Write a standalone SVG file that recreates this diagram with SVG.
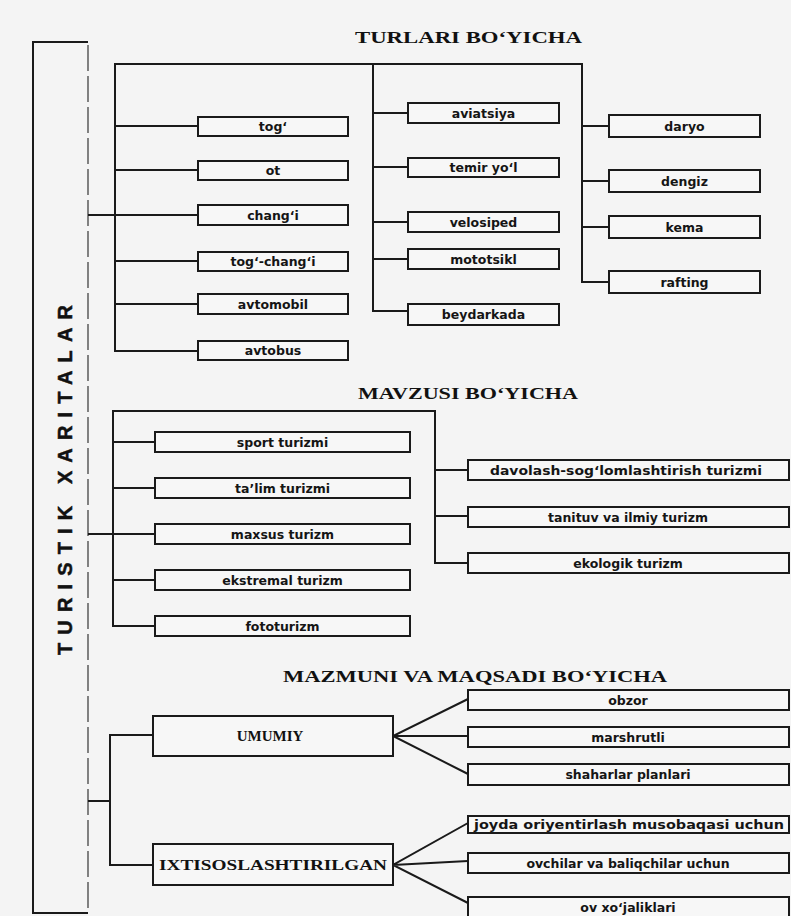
<svg xmlns="http://www.w3.org/2000/svg" width="791" height="916" viewBox="0 0 791 916">
<style>
.bg{fill:#f4f4f4}
.box{fill:#f7f7f7;stroke:#1a1a1a;stroke-width:2}
.ln{fill:none;stroke:#1a1a1a;stroke-width:2}
.t{font-family:"DejaVu Sans","Liberation Sans",sans-serif;font-weight:bold;font-size:12.5px;fill:#151515;text-anchor:middle}
.ttl{font-family:"Liberation Serif","Times New Roman",serif;font-weight:bold;font-size:17px;fill:#111}
.big{font-family:"Liberation Serif","Times New Roman",serif;font-weight:bold;font-size:15px;fill:#111;text-anchor:middle}
.vt{font-family:"Liberation Sans",Arial,sans-serif;font-weight:bold;font-size:20px;fill:#111;stroke:#111;stroke-width:0.5;text-anchor:middle}
</style>
<rect class="bg" x="0" y="0" width="791" height="916"/>

<g id="frame">
  <path class="ln" d="M88 42 H33 V913 H88"/>
  <path d="M88 45 V913" fill="none" stroke="#444" stroke-width="1.3" stroke-dasharray="26 5"/>
  <text class="vt" transform="translate(72,480) rotate(-90)" x="0" y="0" textLength="350" lengthAdjust="spacing">TURISTIK XARITALAR</text>
</g>

<g id="titles">
  <text class="ttl" x="355" y="43" textLength="227" lengthAdjust="spacingAndGlyphs">TURLARI  BO‘YICHA</text>
  <text class="ttl" x="358" y="399" textLength="220" lengthAdjust="spacingAndGlyphs">MAVZUSI BO‘YICHA</text>
  <text class="ttl" x="283" y="682" textLength="384" lengthAdjust="spacingAndGlyphs">MAZMUNI VA MAQSADI BO‘YICHA</text>
</g>

<g id="connectors">
  <!-- TURLARI -->
  <path class="ln" d="M198 351 H115 V64 H582 V282 H609"/>
  <path class="ln" d="M373 64 V311 H408"/>
  <path class="ln" d="M115 126 H198 M115 170 H198 M88 215 H198 M115 261 H198 M115 304 H198"/>
  <path class="ln" d="M373 113 H408 M373 167 H408 M373 222 H408 M373 259 H408"/>
  <path class="ln" d="M582 126 H609 M582 181 H609 M582 227 H609"/>
  <!-- MAVZUSI -->
  <path class="ln" d="M155 626 H113 V411 H435 V563 H468"/>
  <path class="ln" d="M113 442 H155 M113 488 H155 M88 534 H155 M113 580 H155"/>
  <path class="ln" d="M435 470 H468 M435 516 H468"/>
  <!-- MAZMUNI -->
  <path class="ln" d="M88 801 H110 M153 735 H110 V865 H153"/>
  <path class="ln" d="M468 699 L393 736 L468 774 M393 736 H468"/>
  <path class="ln" d="M468 823 L393 865 L468 903 M393 865 L468 861"/>
</g>

<g id="n-tog"><rect class="box" x="198" y="117" width="150" height="19"/><text class="t" x="273" y="131">tog‘</text></g>
<g id="n-ot"><rect class="box" x="198" y="161" width="150" height="19"/><text class="t" x="273" y="175">ot</text></g>
<g id="n-changi"><rect class="box" x="198" y="205" width="150" height="20"/><text class="t" x="273" y="219.5">chang‘i</text></g>
<g id="n-tog-changi"><rect class="box" x="198" y="252" width="150" height="19"/><text class="t" x="273" y="266">tog‘-chang‘i</text></g>
<g id="n-avtomobil"><rect class="box" x="198" y="294" width="150" height="20"/><text class="t" x="273" y="308.5">avtomobil</text></g>
<g id="n-avtobus"><rect class="box" x="198" y="341" width="150" height="19"/><text class="t" x="273" y="355">avtobus</text></g>

<g id="n-aviatsiya"><rect class="box" x="408" y="103" width="151" height="20"/><text class="t" x="483.5" y="117.5">aviatsiya</text></g>
<g id="n-temir"><rect class="box" x="408" y="158" width="151" height="19"/><text class="t" x="483.5" y="172">temir yo‘l</text></g>
<g id="n-velosiped"><rect class="box" x="408" y="212" width="151" height="20"/><text class="t" x="483.5" y="226.5">velosiped</text></g>
<g id="n-mototsikl"><rect class="box" x="408" y="249" width="151" height="20"/><text class="t" x="483.5" y="263.5">mototsikl</text></g>
<g id="n-beydarkada"><rect class="box" x="408" y="304" width="151" height="21"/><text class="t" x="483.5" y="319">beydarkada</text></g>

<g id="n-daryo"><rect class="box" x="609" y="115" width="151" height="22"/><text class="t" x="684.5" y="130.5">daryo</text></g>
<g id="n-dengiz"><rect class="box" x="609" y="170" width="151" height="22"/><text class="t" x="684.5" y="185.5">dengiz</text></g>
<g id="n-kema"><rect class="box" x="609" y="216" width="151" height="22"/><text class="t" x="684.5" y="231.5">kema</text></g>
<g id="n-rafting"><rect class="box" x="609" y="271" width="151" height="22"/><text class="t" x="684.5" y="286.5">rafting</text></g>

<g id="n-sport"><rect class="box" x="155" y="432" width="255" height="20"/><text class="t" x="282.5" y="446.5">sport turizmi</text></g>
<g id="n-talim"><rect class="box" x="155" y="478" width="255" height="20"/><text class="t" x="282.5" y="492.5">ta’lim turizmi</text></g>
<g id="n-maxsus"><rect class="box" x="155" y="524" width="255" height="20"/><text class="t" x="282.5" y="538.5">maxsus turizm</text></g>
<g id="n-ekstremal"><rect class="box" x="155" y="570" width="255" height="20"/><text class="t" x="282.5" y="584.5">ekstremal turizm</text></g>
<g id="n-fototurizm"><rect class="box" x="155" y="616" width="255" height="20"/><text class="t" x="282.5" y="630.5">fototurizm</text></g>

<g id="n-davolash"><rect class="box" x="468" y="460" width="321" height="20"/><text class="t" x="626" y="474.5" textLength="272" lengthAdjust="spacingAndGlyphs">davolash-sog‘lomlashtirish turizmi</text></g>
<g id="n-tanituv"><rect class="box" x="468" y="507" width="321" height="20"/><text class="t" x="628" y="521.5">tanituv va ilmiy turizm</text></g>
<g id="n-ekologik"><rect class="box" x="468" y="553" width="321" height="20"/><text class="t" x="628" y="567.5">ekologik turizm</text></g>

<g id="n-umumiy"><rect class="box" x="153" y="716" width="240" height="40"/><text class="big" x="270" y="741">UMUMIY</text></g>
<g id="n-ixtisos"><rect class="box" x="153" y="844" width="240" height="41"/><text class="big" x="273" y="870" textLength="228" lengthAdjust="spacingAndGlyphs">IXTISOSLASHTIRILGAN</text></g>

<g id="n-obzor"><rect class="box" x="468" y="690" width="321" height="20"/><text class="t" x="628" y="704.5">obzor</text></g>
<g id="n-marshrutli"><rect class="box" x="468" y="727" width="321" height="20"/><text class="t" x="628" y="741.5">marshrutli</text></g>
<g id="n-shaharlar"><rect class="box" x="468" y="764" width="321" height="21"/><text class="t" x="628" y="779">shaharlar planlari</text></g>
<g id="n-joyda"><rect class="box" x="468" y="816" width="321" height="17"/><text class="t" style="font-size:12px" x="629" y="828.5" textLength="310" lengthAdjust="spacingAndGlyphs">joyda oriyentirlash musobaqasi uchun</text></g>
<g id="n-ovchilar"><rect class="box" x="468" y="853" width="321" height="20"/><text class="t" x="628" y="867.5">ovchilar va baliqchilar uchun</text></g>
<g id="n-ov"><rect class="box" x="468" y="897" width="321" height="22"/><text class="t" x="628" y="912">ov xo‘jaliklari</text></g>
</svg>
